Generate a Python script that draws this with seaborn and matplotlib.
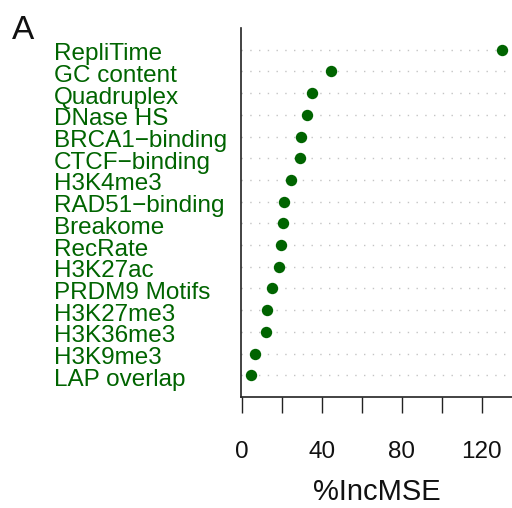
import matplotlib
matplotlib.use("Agg")
import matplotlib.pyplot as plt
import matplotlib.transforms as mtrans
import seaborn as sns
import pandas as pd

features = ["RepliTime", "GC content", "Quadruplex", "DNase HS", "BRCA1\u2212binding",
            "CTCF\u2212binding", "H3K4me3", "RAD51\u2212binding", "Breakome", "RecRate",
            "H3K27ac", "PRDM9 Motifs", "H3K27me3", "H3K36me3", "H3K9me3", "LAP overlap"]
inc_mse = [130.2, 44.5, 35.2, 32.3, 29.3, 29.2, 24.7, 21.0, 20.3, 19.5,
           18.7, 15.2, 12.3, 12.2, 6.5, 4.5]
xticks = [0, 20, 40, 60, 80, 100, 120]
xticklabels = ["0", "", "40", "", "80", "", "120"]

df = pd.DataFrame({"feature": features, "IncMSE": inc_mse})

sns.set_theme(style="white")
plt.rcParams["font.family"] = ["Liberation Sans", "DejaVu Sans"]

green = "#006400"
fig = plt.figure(figsize=(5.12, 5.08), dpi=100)
ax = fig.add_axes([241/512, 1 - 397/508, (512-241)/512, (397-28)/508])

for i in range(len(features)):
    ax.axhline(i, color="#c4c4c4", lw=1.0, linestyle=(0, (1, 5.3)), zorder=1)

sns.stripplot(data=df, x="IncMSE", y="feature", order=features, jitter=False,
              color=green, size=8.2, linewidth=0, ax=ax, zorder=3)

ax.set_xlim(-0.5, 135.2)
ax.set_ylim(len(features), -1)

ax.set_xticks(xticks)
ax.set_xticklabels(xticklabels)
ax.tick_params(axis="x", length=11.5, width=1.0, color="#222222", pad=20,
               labelsize=17.5, labelcolor="#111111", bottom=True)
ax.tick_params(axis="y", length=0, pad=134.6, labelsize=17.5, labelcolor=green)
shift = mtrans.ScaledTranslation(0, -2.0 / 100, fig.dpi_scale_trans)
for lab in ax.get_yticklabels():
    lab.set_horizontalalignment("left")
    lab.set_transform(lab.get_transform() + shift)

ax.set_xlabel("%IncMSE", fontsize=21, color="#111111", labelpad=11)
ax.set_ylabel("")

for s in ["top", "right"]:
    ax.spines[s].set_visible(False)
for s in ["left", "bottom"]:
    ax.spines[s].set_color("#222222")
    ax.spines[s].set_linewidth(1.2)

fig.text(12/512, 1 - 15/508, "A", fontsize=24, color="#111111", ha="left", va="top")

fig.savefig("out.png", dpi=100)
